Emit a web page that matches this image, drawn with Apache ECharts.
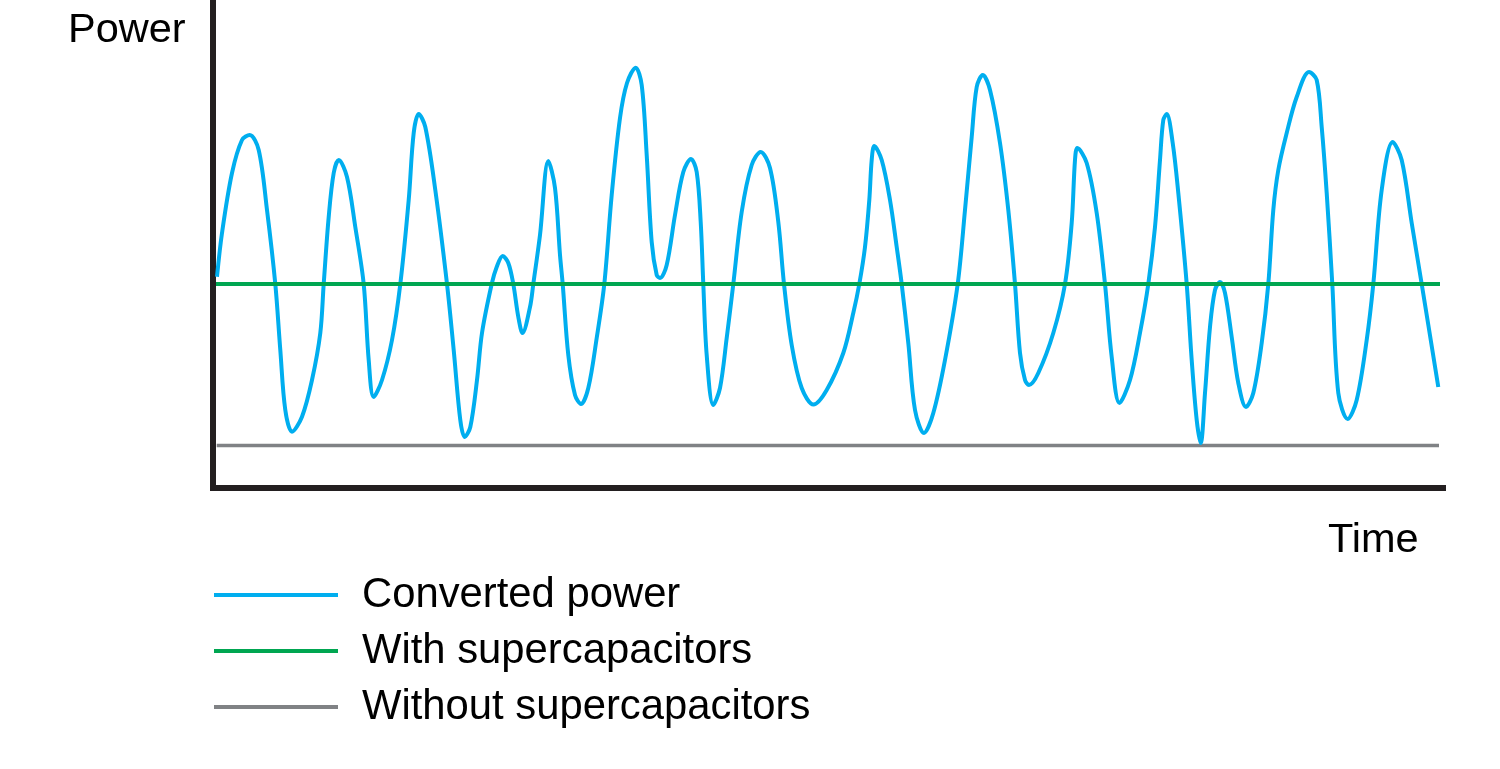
<!DOCTYPE html>
<html>
<head>
<meta charset="utf-8">
<script src="https://cdn.jsdelivr.net/npm/echarts@6.0.0/dist/echarts.min.js"></script>
<style>
html, body { margin: 0; padding: 0; background: #fff; }
#chart { width: 1500px; height: 769px; }
</style>
</head>
<body>
<div id="chart"></div>
<script type="text/javascript">
// time / power readings (arbitrary units)
var timeVals = [
    4, 9, 19, 29, 36.7, 45.7, 54, 62.3, 67.3, 72.3,
    79, 89, 99, 107.3, 110.7, 115.7, 120.7, 125.7, 134, 142.3,
    150.7, 155.7, 160.7, 169, 179, 187.3, 195.7, 200.7, 205.7, 212.3,
    222.3, 234, 240.7, 247.3, 251.7, 257.3, 264, 269, 278.7, 283.7,
    289.7, 295.3, 300.3, 305.3, 309.5, 317, 320.3, 327, 335.3, 342,
    347, 349.7, 355.3, 362, 368, 375.3, 383.7, 391.3, 398.7, 407,
    414, 422.7, 428.7, 433.7, 438.7, 443.7, 447, 453.7, 462, 470.3,
    478, 483.7, 487.7, 490.3, 493.7, 500.3, 507, 513.7, 520.3, 528.7,
    538.7, 547.7, 557, 565.3, 571, 578.7, 588.7, 600.5, 613.7, 630.3,
    640.3, 646.3, 652, 656.3, 658.7, 661.3, 668.7, 677, 683.7, 688.7,
    695.3, 702, 711, 720.3, 732, 744.7, 752, 758.7, 763.7, 769.7,
    777, 787, 795.3, 802, 807, 812, 816, 825.3, 840.3, 852,
    858.7, 862, 864.3, 873.7, 883.7, 892, 898.7, 906.5, 917, 927,
    935.3, 942, 947, 950.3, 953.7, 959.7, 965.3, 973.7, 978.7, 983.7,
    987.7, 992, 997, 1002, 1007, 1012, 1018.7, 1025.3, 1033, 1040.3,
    1048.7, 1055.3, 1060.3, 1065.3, 1073.7, 1083.7, 1096, 1103.7, 1108.7, 1113.7,
    1119.3, 1125.3, 1134.7, 1143.7, 1153.7, 1160.3, 1168.7, 1179.7, 1188.7, 1198.7,
    1208.7, 1225.3];
var convertedPower = [
    211.3, 255, 315, 348, 353, 338, 278, 204, 138, 78,
    56.3, 71.3, 108, 155, 204, 271, 315, 328, 311, 261,
    204, 128, 91, 108, 148, 204, 288, 355, 374, 361,
    298, 204, 138, 68, 51, 61, 108, 155, 204, 221,
    232, 225, 204, 171, 155, 181, 204, 253, 327, 300,
    233, 204, 133, 93, 84, 100, 150, 204, 293, 370,
    405, 420.3, 403, 333, 246, 213, 210, 223, 273, 316,
    329, 316, 266, 204, 133, 83, 100, 150, 204, 276,
    323, 336, 320, 266, 204, 143, 100, 83.5, 98, 135,
    175, 204, 241, 288, 328, 342, 328, 288, 241, 204,
    145, 78, 55, 75, 128, 204, 278, 351, 401, 413,
    398, 345, 278, 204, 135, 108, 103, 115, 155, 204,
    265, 328, 340, 325, 275, 204, 131, 85, 108, 155,
    204, 261, 328, 368, 374, 345, 295, 204, 128, 68,
    45, 95, 161, 198, 206, 195, 151, 105, 81, 95,
    145, 204, 278, 318, 355, 391, 416, 408, 361, 295,
    204, 95, 69, 88, 148, 204, 298, 346, 328, 265,
    204, 101];

var withCapsSpan = [3, 1227];
var withCapsLevel = 204;
var withoutCapsSpan = [3.7, 1226];
var withoutCapsLevel = 42.5;

var seriesNames = ['Converted power', 'With supercapacitors', 'Without supercapacitors'];

var blueData = timeVals.map(function (t, i) { return [t, convertedPower[i]]; });
var greenData = withCapsSpan.map(function (t) { return [t, withCapsLevel]; });
var greyData = withoutCapsSpan.map(function (t) { return [t, withoutCapsLevel]; });

var myChart = echarts.init(document.getElementById('chart'));
var axisLine = { show: true, lineStyle: { color: '#231f20', width: 6, cap: 'square' } };
var labelFont = '41.5px "Liberation Sans", Arial, sans-serif';
var option = {
    animation: false,
    textStyle: { fontFamily: '"Liberation Sans", Arial, sans-serif' },
    grid: { left: 213, right: 57, top: 0, bottom: 281 },
    xAxis: {
        type: 'value', min: 0, max: 1230,
        axisLine: axisLine, axisTick: { show: false }, axisLabel: { show: false }, splitLine: { show: false }
    },
    yAxis: {
        type: 'value', min: 0, max: 488,
        axisLine: axisLine, axisTick: { show: false }, axisLabel: { show: false }, splitLine: { show: false }
    },
    legend: {
        data: seriesNames,
        orient: 'vertical',
        left: 214, top: 572,
        padding: 0,
        icon: 'rect',
        itemWidth: 124, itemHeight: 4,
        itemGap: 10,
        selectedMode: false,
        textStyle: { fontSize: 41.8, color: '#000', lineHeight: 46, padding: [0, 0, 0, 19] }
    },
    graphic: [
        { type: 'text', left: 68, top: 10, style: { text: 'Power', font: labelFont, fill: '#000' } },
        { type: 'text', left: 1328, top: 520, style: { text: 'Time', font: labelFont, fill: '#000' } }
    ],
    series: [
        {
            name: seriesNames[2], type: 'line', data: greyData, symbol: 'none', z: 2,
            lineStyle: { color: '#808285', width: 3.5 }, itemStyle: { color: '#808285' }
        },
        {
            name: seriesNames[0], type: 'line', data: blueData, symbol: 'none', z: 3,
            smooth: 0.33,
            lineStyle: { color: '#00aeef', width: 4 }, itemStyle: { color: '#00aeef' }
        },
        {
            name: seriesNames[1], type: 'line', data: greenData, symbol: 'none', z: 4,
            lineStyle: { color: '#00a651', width: 4 }, itemStyle: { color: '#00a651' }
        }
    ]
};
myChart.setOption(option);
</script>
</body>
</html>
